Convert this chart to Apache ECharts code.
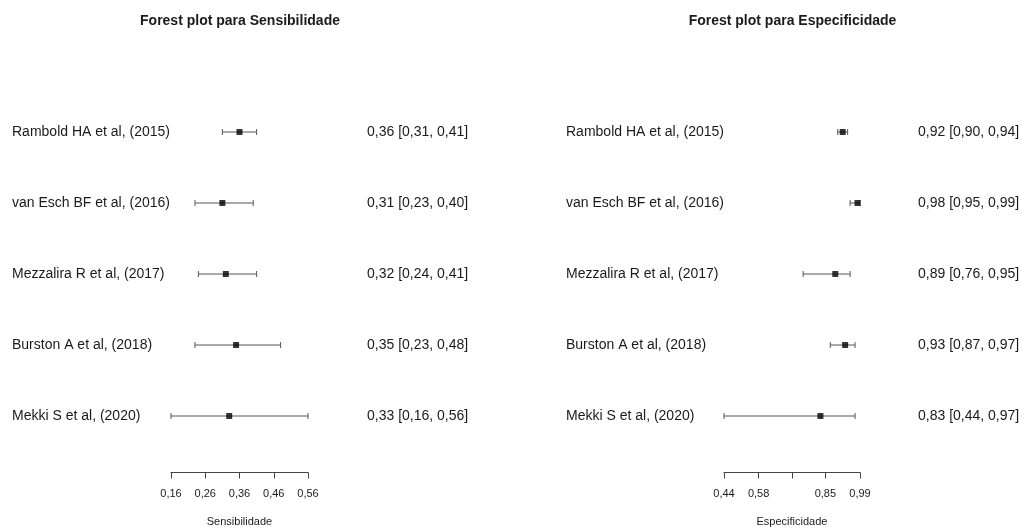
<!DOCTYPE html>
<html>
<head>
<meta charset="utf-8">
<script src="https://cdn.jsdelivr.net/npm/echarts@6/dist/echarts.min.js"></script>
<style>
html,body{margin:0;padding:0;background:#fff;}
#chart{width:1022px;height:528px;}
</style>
</head>
<body>
<div id="chart"></div>
<script>
var studies = ['Rambold HA et al, (2015)', 'van Esch BF et al, (2016)', 'Mezzalira R et al, (2017)', 'Burston A et al, (2018)', 'Mekki S et al, (2020)'];
var sensEst = [0.36, 0.31, 0.32, 0.35, 0.33];
var sensLo  = [0.31, 0.23, 0.24, 0.23, 0.16];
var sensHi  = [0.41, 0.40, 0.41, 0.48, 0.56];
var specEst = [0.92, 0.98, 0.89, 0.93, 0.83];
var specLo  = [0.90, 0.95, 0.76, 0.87, 0.44];
var specHi  = [0.94, 0.99, 0.95, 0.97, 0.97];
var sensTicks = [0.16, 0.26, 0.36, 0.46, 0.56];
var specTicks = [0.44, 0.58, 0.715, 0.85, 0.99];
var specTickLabels = [0.44, 0.58, 0.85, 0.99];

function fmt(v){ return v.toFixed(2).replace('.', ','); }
function estText(e, l, h){ return studies.map(function(_, i){ return fmt(e[i]) + ' [' + fmt(l[i]) + ', ' + fmt(h[i]) + ']'; }); }
var sensText = estText(sensEst, sensLo, sensHi);
var specText = estText(specEst, specLo, specHi);

var txt = '#1a1a1a';
var font = 'Liberation Sans, Arial, Helvetica, sans-serif';

function errData(lo, hi){ return studies.map(function(s, i){ return [lo[i], hi[i], i]; }); }
function ptData(est){ return studies.map(function(s, i){ return [est[i], i]; }); }

function renderErr(params, api){
  var lo = api.value(0), hi = api.value(1), c = api.value(2);
  var p1 = api.coord([lo, c]);
  var p2 = api.coord([hi, c]);
  var cap = 3;
  var st = {stroke: '#555', lineWidth: 1};
  return {
    type: 'group',
    children: [
      {type: 'line', shape: {x1: p1[0], y1: p1[1], x2: p2[0], y2: p2[1]}, style: st},
      {type: 'line', shape: {x1: p1[0], y1: p1[1]-cap, x2: p1[0], y2: p1[1]+cap}, style: st},
      {type: 'line', shape: {x1: p2[0], y1: p2[1]-cap, x2: p2[0], y2: p2[1]+cap}, style: st}
    ]
  };
}

function xAxisCfg(idx, min, max, ticks, labels, name){
  return {
    type: 'value', gridIndex: idx, min: min, max: max, offset: 21,
    name: name, nameLocation: 'middle', nameGap: 44,
    nameTextStyle: {color: txt, fontSize: 11, fontFamily: font},
    axisLine: {show: true, lineStyle: {color: '#444', width: 1}},
    axisTick: {show: true, length: 6, customValues: ticks, lineStyle: {color: '#444'}},
    axisLabel: {show: true, customValues: labels, margin: 16, color: txt, fontSize: 11, fontFamily: font,
      formatter: function(v){ return fmt(v); }},
    splitLine: {show: false}
  };
}
function yAxisCfg(idx, pos, labels, margin){
  return {
    type: 'category', gridIndex: idx, data: studies, inverse: true, position: pos,
    axisLine: {show: false}, axisTick: {show: false}, splitLine: {show: false},
    axisLabel: {show: true, align: 'left', margin: margin, color: txt, fontSize: 14, fontFamily: font,
      formatter: function(v, i){ return labels[i]; }}
  };
}

var chart = echarts.init(document.getElementById('chart'));
chart.setOption({
  backgroundColor: '#fff',
  animation: false,
  title: [
    {text: 'Forest plot para Sensibilidade', left: 235, top: 9, textAlign: 'center',
     textStyle: {fontSize: 14, fontWeight: 'bold', color: txt, fontFamily: font}},
    {text: 'Forest plot para Especificidade', left: 787.5, top: 9, textAlign: 'center',
     textStyle: {fontSize: 14, fontWeight: 'bold', color: txt, fontFamily: font}}
  ],
  grid: [
    {left: 171, width: 137, top: 96.5, height: 355, containLabel: false, outerBoundsMode: 'none'},
    {left: 724, width: 136, top: 96.5, height: 355, containLabel: false, outerBoundsMode: 'none'}
  ],
  xAxis: [
    xAxisCfg(0, 0.16, 0.56, sensTicks, sensTicks, 'Sensibilidade'),
    xAxisCfg(1, 0.44, 0.99, specTicks, specTickLabels, 'Especificidade')
  ],
  yAxis: [
    yAxisCfg(0, 'left', studies, 159),
    yAxisCfg(0, 'right', sensText, 59),
    yAxisCfg(1, 'left', studies, 158),
    yAxisCfg(1, 'right', specText, 58)
  ],
  series: [
    {type: 'custom', xAxisIndex: 0, yAxisIndex: 0, renderItem: renderErr, data: errData(sensLo, sensHi), z: 2},
    {type: 'scatter', xAxisIndex: 0, yAxisIndex: 0, symbol: 'rect', symbolSize: 6, itemStyle: {color: '#000'}, data: ptData(sensEst), z: 3},
    {type: 'custom', xAxisIndex: 1, yAxisIndex: 2, renderItem: renderErr, data: errData(specLo, specHi), z: 2},
    {type: 'scatter', xAxisIndex: 1, yAxisIndex: 2, symbol: 'rect', symbolSize: 6, itemStyle: {color: '#000'}, data: ptData(specEst), z: 3}
  ]
});
</script>
</body>
</html>
